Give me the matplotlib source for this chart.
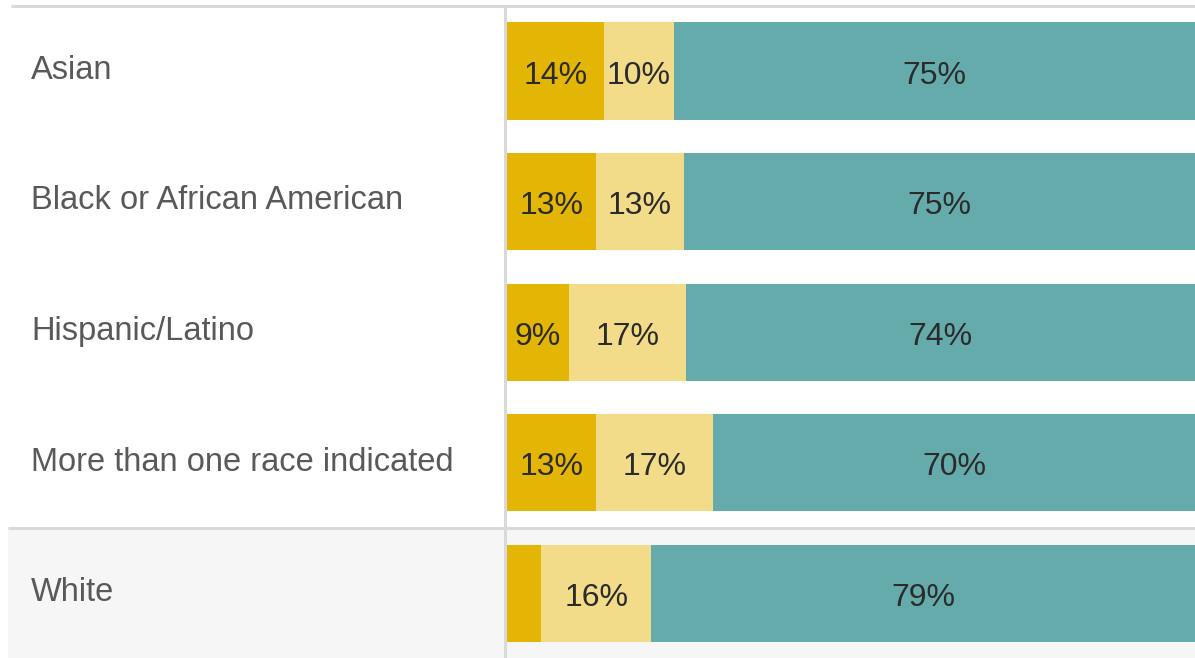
import matplotlib.pyplot as plt
import numpy as np

# Rows and the three stacked shares (percent, as printed on the bars)
groups = ["Asian", "Black or African American", "Hispanic/Latino",
          "More than one race indicated", "White"]
low = [14, 13, 9, 13, 5]
mid = [10, 13, 17, 17, 16]
high = [75, 75, 74, 70, 79]

colors = ["#E3B505", "#F2DC8A", "#65ABAB"]

plt.rcParams['font.family'] = ['Liberation Sans', 'DejaVu Sans']

fig = plt.figure(figsize=(11.95, 6.58), dpi=100)
ax = fig.add_axes([0, 0, 1, 1])

data = np.array([low, mid, high], dtype=float)
totals = data.sum(axis=0)
shares = data / totals * 100

y = np.arange(len(groups))
ax.set_xlim(-507 / 6.88, 100)
ax.set_ylim(4.4946, -0.5437)

# gray band behind the last row
ax.fill_between([-72.5, 100], 3.5, 4.5, color="#f6f6f6", zorder=0, lw=0)

left = np.zeros(len(groups))
for k in range(3):
    ax.barh(y, shares[k], left=left, height=0.743, color=colors[k], zorder=2)
    for i in range(len(groups)):
        if data[k, i] >= 8:
            ax.text(left[i] + shares[k, i] / 2, y[i] + 0.035, f"{data[k, i]:.0f}%",
                    ha="center", va="center", fontsize=23, color="#2b2b2b", zorder=3)
    left += shares[k]

for i, g in enumerate(groups):
    ax.text(-69.2, y[i] - 0.005, g, ha="left", va="center", fontsize=23.5, color="#595959")

# grid lines
ax.plot([-72.1, 100], [-0.5, -0.5], color="#d9d9d9", lw=2.2, solid_capstyle="butt", zorder=4)
ax.plot([-72.5, 100], [3.5, 3.5], color="#d9d9d9", lw=2.2, solid_capstyle="butt", zorder=4)
ax.plot([-0.22, -0.22], [-0.49, 4.5], color="#d9d9d9", lw=2.2, solid_capstyle="butt", zorder=4)

ax.axis("off")
fig.savefig("out.png", dpi=100)
